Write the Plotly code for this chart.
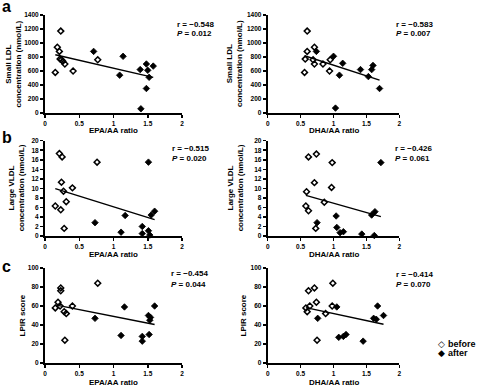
import numpy as np
import plotly.graph_objects as go

W, H = 477, 387
FONT = "Arial, 'Liberation Sans', sans-serif"

# ---------------- data ----------------
x_ticks = [0, 0.5, 1, 1.5, 2]
x_tick_labels = ["0", "0.5", "1", "1.5", "2"]

# (a) Small LDL vs EPA/AA
sldl_epa_before_x = [0.15, 0.23, 0.18, 0.21, 0.22, 0.24, 0.26, 0.29, 0.41, 0.77]
sldl_epa_before_y = [580, 1170, 940, 880, 770, 760, 740, 700, 600, 760]
sldl_epa_after_x = [0.71, 1.14, 1.09, 1.39, 1.48, 1.50, 1.52, 1.58, 1.48, 1.40]
sldl_epa_after_y = [880, 810, 540, 620, 700, 610, 510, 670, 350, 60]
# (a) Small LDL vs DHA/AA
sldl_dha_before_x = [0.56, 0.60, 0.60, 0.57, 0.71, 0.69, 0.71, 0.84, 0.94, 0.95]
sldl_dha_before_y = [580, 1170, 880, 770, 940, 760, 700, 700, 600, 760]
sldl_dha_after_x = [0.74, 1.00, 1.09, 1.14, 1.41, 1.53, 1.60, 1.58, 1.70, 1.03]
sldl_dha_after_y = [880, 810, 540, 710, 620, 520, 680, 620, 350, 70]

# (b) Large VLDL vs EPA/AA
lvldl_epa_before_x = [0.21, 0.25, 0.76, 0.24, 0.40, 0.27, 0.15, 0.23, 0.31, 0.28]
lvldl_epa_before_y = [17.3, 16.6, 15.5, 11.3, 10.1, 9.4, 6.3, 5.5, 7.2, 1.6]
lvldl_epa_after_x = [1.51, 0.73, 1.17, 1.11, 1.42, 1.42, 1.51, 1.53, 1.55, 1.60]
lvldl_epa_after_y = [15.5, 2.8, 4.3, 0.8, 2.0, 0.5, 1.1, 0.2, 4.4, 5.2]
# (b) Large VLDL vs DHA/AA
lvldl_dha_before_x = [0.62, 0.74, 0.98, 0.71, 0.97, 0.59, 0.58, 0.62, 0.86, 0.73]
lvldl_dha_before_y = [16.6, 17.2, 15.4, 11.2, 10.2, 9.3, 6.3, 5.3, 7.1, 1.6]
lvldl_dha_after_x = [1.72, 1.63, 1.58, 1.04, 0.75, 1.05, 1.15, 1.10, 1.43, 1.62]
lvldl_dha_after_y = [15.4, 5.1, 4.4, 4.2, 2.8, 1.8, 0.9, 0.7, 0.4, 0.1]

# (c) LPIR score vs EPA/AA
lpir_epa_before_x = [0.23, 0.23, 0.77, 0.19, 0.15, 0.22, 0.40, 0.28, 0.31, 0.29]
lpir_epa_before_y = [79, 76, 84, 64, 58, 60, 60, 54, 52, 24]
lpir_epa_after_x = [0.73, 1.16, 1.11, 1.42, 1.42, 1.52, 1.51, 1.54, 1.53, 1.60]
lpir_epa_after_y = [47, 59, 29, 28, 23, 30, 50, 48, 45, 60]
# (c) LPIR score vs DHA/AA
lpir_dha_before_x = [0.62, 0.71, 0.99, 0.74, 0.64, 0.58, 0.60, 0.98, 0.88, 0.75]
lpir_dha_before_y = [76, 79, 84, 64, 60, 58, 54, 60, 52, 24]
lpir_dha_after_x = [0.76, 1.05, 1.08, 1.15, 1.19, 1.45, 1.61, 1.65, 1.67, 1.76]
lpir_dha_after_y = [47, 59, 27, 28, 30, 23, 47, 46, 60, 50]

stats_r = ["r = \u22120.548", "r = \u22120.583", "r = \u22120.515",
           "r = \u22120.426", "r = \u22120.454", "r = \u22120.414"]
stats_p = ["0.012", "0.007", "0.020", "0.061", "0.044", "0.070"]

# ---------------- layout helpers ----------------
def px_x(p):
    return p / W

def px_y(p):
    return 1 - p / H

left_dom = [px_x(45), px_x(182)]
right_dom = [px_x(267.7), px_x(399.3)]
row_dom = {
    "a": [px_y(113), px_y(15)],
    "b": [px_y(236), px_y(140.7)],
    "c": [px_y(363), px_y(268)],
}

panels = [
    dict(row="a", xd=left_dom, bx=sldl_epa_before_x, by=sldl_epa_before_y,
         ax=sldl_epa_after_x, ay=sldl_epa_after_y, ymax=1400, dtick=200,
         ytitle="Small LDL<br>concentration (nmol/L)", xtitle="EPA/AA ratio",
         ytx=13.5, xty=130, rx=175, ry=24, py=33),
    dict(row="a", xd=right_dom, bx=sldl_dha_before_x, by=sldl_dha_before_y,
         ax=sldl_dha_after_x, ay=sldl_dha_after_y, ymax=1400, dtick=200,
         ytitle="Small LDL<br>concentration (nmol/L)", xtitle="DHA/AA ratio",
         ytx=235, xty=130, rx=393.5, ry=24, py=33),
    dict(row="b", xd=left_dom, bx=lvldl_epa_before_x, by=lvldl_epa_before_y,
         ax=lvldl_epa_after_x, ay=lvldl_epa_after_y, ymax=20, dtick=2,
         ytitle="Large VLDL<br>concentration (nmol/L)", xtitle="EPA/AA ratio",
         ytx=16, xty=254, rx=170, ry=149, py=158),
    dict(row="b", xd=right_dom, bx=lvldl_dha_before_x, by=lvldl_dha_before_y,
         ax=lvldl_dha_after_x, ay=lvldl_dha_after_y, ymax=20, dtick=2,
         ytitle="Large VLDL<br>concentration (nmol/L)", xtitle="DHA/AA ratio",
         ytx=235, xty=254, rx=393, ry=148.5, py=158),
    dict(row="c", xd=left_dom, bx=lpir_epa_before_x, by=lpir_epa_before_y,
         ax=lpir_epa_after_x, ay=lpir_epa_after_y, ymax=100, dtick=20,
         ytitle="LPIR score", xtitle="EPA/AA ratio",
         ytx=22, xty=382, rx=169, ry=273.5, py=284.5),
    dict(row="c", xd=right_dom, bx=lpir_dha_before_x, by=lpir_dha_before_y,
         ax=lpir_dha_after_x, ay=lpir_dha_after_y, ymax=100, dtick=20,
         ytitle="LPIR score", xtitle="DHA/AA ratio",
         ytx=243, xty=382, rx=393.5, ry=274, py=284.5),
]

fig = go.Figure()
annotations = []
layout_axes = {}

tickfont = dict(family=FONT, size=6.5, color="black", weight="bold")

for i, p in enumerate(panels, start=1):
    xa = "x" if i == 1 else f"x{i}"
    ya = "y" if i == 1 else f"y{i}"
    fig.add_trace(go.Scatter(
        x=p["bx"], y=p["by"], mode="markers", xaxis=xa, yaxis=ya,
        marker=dict(symbol="diamond-open", size=4.5, color="black",
                    line=dict(color="black", width=1.5)),
        cliponaxis=False, showlegend=False, name="before"))
    fig.add_trace(go.Scatter(
        x=p["ax"], y=p["ay"], mode="markers", xaxis=xa, yaxis=ya,
        marker=dict(symbol="diamond", size=5, color="black",
                    line=dict(color="black", width=0.8)),
        cliponaxis=False, showlegend=False, name="after"))
    allx = np.array(p["bx"] + p["ax"], dtype=float)
    ally = np.array(p["by"] + p["ay"], dtype=float)
    slope, icpt = np.polyfit(allx, ally, 1)
    lx = np.array([allx.min(), allx.max()])
    fig.add_trace(go.Scatter(
        x=lx, y=slope * lx + icpt, mode="lines", xaxis=xa, yaxis=ya,
        line=dict(color="black", width=1.4), cliponaxis=False,
        showlegend=False, hoverinfo="skip"))

    axis_common = dict(showline=True, linecolor="black", linewidth=2,
                       ticks="outside", ticklen=3, tickwidth=1.5,
                       tickcolor="black", showgrid=False, zeroline=False,
                       tickfont=tickfont)
    xkey = "xaxis" if i == 1 else f"xaxis{i}"
    ykey = "yaxis" if i == 1 else f"yaxis{i}"
    layout_axes[xkey] = dict(domain=p["xd"], anchor=ya, range=[0, 2],
                             tickvals=x_ticks, ticktext=x_tick_labels,
                             **axis_common)
    layout_axes[ykey] = dict(domain=row_dom[p["row"]], anchor=xa,
                             range=[0, p["ymax"]], dtick=p["dtick"],
                             tick0=0, **axis_common)

    ymid = (row_dom[p["row"]][0] + row_dom[p["row"]][1]) / 2
    xmid = (p["xd"][0] + p["xd"][1]) / 2
    annotations.append(dict(
        x=px_x(p["ytx"]), y=ymid, xref="paper", yref="paper",
        text=p["ytitle"], textangle=-90, showarrow=False,
        xanchor="center", yanchor="middle",
        font=dict(family=FONT, size=8, color="black", weight="bold")))
    annotations.append(dict(
        x=xmid, y=px_y(p["xty"]), xref="paper", yref="paper",
        text=p["xtitle"], showarrow=False, xanchor="center", yanchor="middle",
        font=dict(family=FONT, size=8, color="black", weight="bold")))
    annotations.append(dict(
        x=px_x(p["rx"]), y=px_y(p["ry"]), xref="paper", yref="paper",
        text=stats_r[i - 1], showarrow=False, xanchor="left", yanchor="middle",
        font=dict(family=FONT, size=8, color="black", weight="bold")))
    annotations.append(dict(
        x=px_x(p["rx"]), y=px_y(p["py"]), xref="paper", yref="paper",
        text="<i>P</i> = " + stats_p[i - 1], showarrow=False,
        xanchor="left", yanchor="middle",
        font=dict(family=FONT, size=8, color="black", weight="bold")))

# panel letters
for letter, ly in [("a", 6), ("b", 137), ("c", 266)]:
    annotations.append(dict(
        x=px_x(0), y=px_y(ly), xref="paper", yref="paper", text=letter,
        showarrow=False, xanchor="left", yanchor="middle",
        font=dict(family=FONT, size=16, color="black", weight="bold")))

# legend
for glyph, label, ly in [("\u25C7", "before", 344), ("\u25C6", "after", 352.5)]:
    annotations.append(dict(
        x=px_x(441.7), y=px_y(ly), xref="paper", yref="paper", text=glyph,
        showarrow=False, xanchor="center", yanchor="middle",
        font=dict(family="DejaVu Sans", size=9, color="black", weight="bold")))
    annotations.append(dict(
        x=px_x(445.5), y=px_y(ly), xref="paper", yref="paper", text=label,
        showarrow=False, xanchor="left", yanchor="middle",
        font=dict(family=FONT, size=9, color="black", weight="bold")))

fig.update_layout(
    width=W, height=H,
    margin=dict(l=0, r=0, t=0, b=0, autoexpand=False),
    paper_bgcolor="white", plot_bgcolor="white",
    showlegend=False,
    hovermode=False,
    annotations=annotations,
    **layout_axes,
)

fig.write_html(
    "out.html",
    config={"staticPlot": True, "displayModeBar": False},
    post_script="document.body.style.margin='0';document.body.style.overflow='hidden';",
)
